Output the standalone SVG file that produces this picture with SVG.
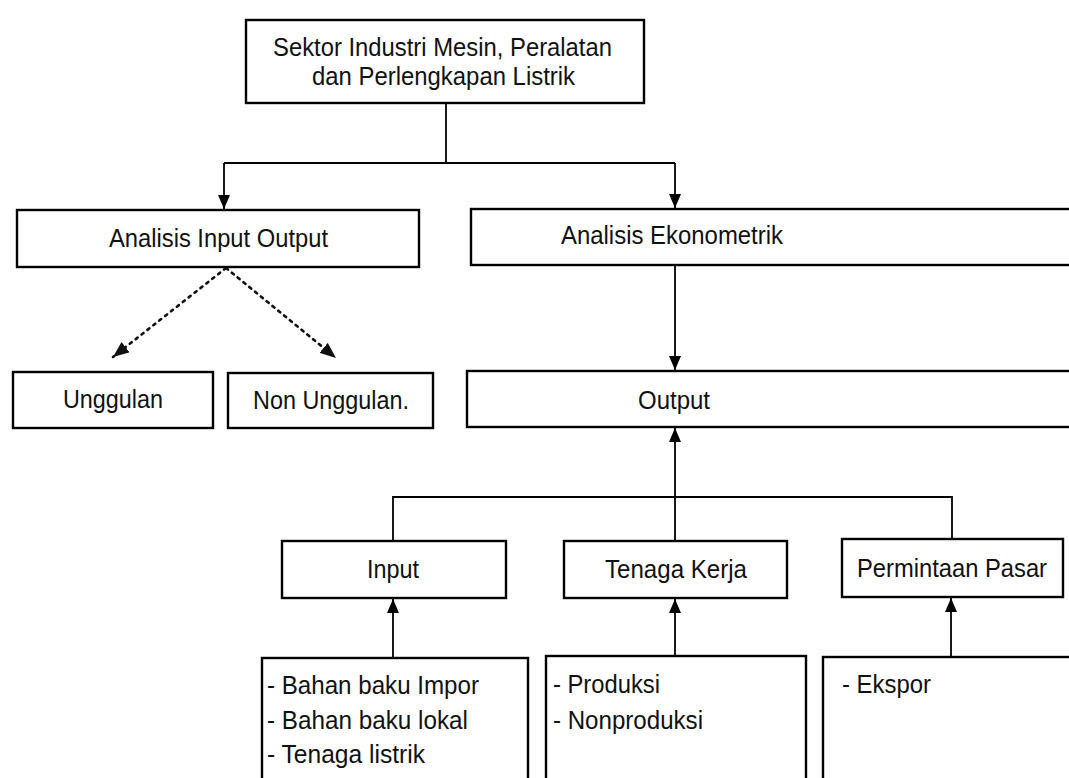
<svg xmlns="http://www.w3.org/2000/svg" width="1069" height="778" viewBox="0 0 1069 778">
  <style>
    .box { fill: #ffffff; stroke: #000000; stroke-width: 2.4; }
    .lbl { font-family: "Liberation Sans", Arial, sans-serif; font-size: 25px; fill: #111111; }
    .big { font-size: 26px; }
    .conn { fill: none; stroke: #000000; stroke-width: 1.8; }
    .dot { fill: none; stroke: #111111; stroke-width: 2.6; stroke-dasharray: 2.5 5; stroke-linecap: round; }
  </style>
  <defs>
    <marker id="arr" viewBox="0 0 14 12" refX="14" refY="6" markerWidth="14" markerHeight="12" markerUnits="userSpaceOnUse" orient="auto">
      <path d="M0,0 L14,6 L0,12 Z" fill="#000000"/>
    </marker>
    <marker id="arrd" viewBox="0 0 16 13" refX="16" refY="6.5" markerWidth="16" markerHeight="13" markerUnits="userSpaceOnUse" orient="auto">
      <path d="M0,0 L16,6.5 L0,13 Z" fill="#111111"/>
    </marker>
  </defs>
  <rect x="0" y="0" width="1069" height="778" fill="#ffffff"/>

  <g id="connectors">
    <path class="conn" d="M446,103 V163"/>
    <path class="conn" d="M224,163 H675"/>
    <path class="conn" d="M224,163 V209" marker-end="url(#arr)"/>
    <path class="conn" d="M675,163 V208" marker-end="url(#arr)"/>
    <path class="dot" d="M226,268 L113,357" marker-end="url(#arrd)"/>
    <path class="dot" d="M226,268 L336,358" marker-end="url(#arrd)"/>
    <path class="conn" d="M675,266 V370" marker-end="url(#arr)"/>
    <path class="conn" d="M675,541 V428" marker-end="url(#arr)"/>
    <path class="conn" d="M393,541 V497 H952 V539"/>
    <path class="conn" d="M393,658 V599" marker-end="url(#arr)"/>
    <path class="conn" d="M675,656 V599" marker-end="url(#arr)"/>
    <path class="conn" d="M951,657 V598" marker-end="url(#arr)"/>
  </g>

  <g id="node-sektor">
    <rect class="box" x="246" y="20" width="398" height="83"/>
    <text class="lbl big" x="273" y="56" textLength="339" lengthAdjust="spacingAndGlyphs">Sektor Industri Mesin, Peralatan</text>
    <text class="lbl big" x="312" y="85" textLength="263" lengthAdjust="spacingAndGlyphs">dan Perlengkapan Listrik</text>
  </g>
  <g id="node-aio">
    <rect class="box" x="17" y="210" width="402" height="57"/>
    <text class="lbl" x="109" y="247" textLength="219" lengthAdjust="spacingAndGlyphs">Analisis Input Output</text>
  </g>
  <g id="node-ae">
    <rect class="box" x="471" y="209" width="610" height="56"/>
    <text class="lbl" x="561" y="244" textLength="222" lengthAdjust="spacingAndGlyphs">Analisis Ekonometrik</text>
  </g>
  <g id="node-unggulan">
    <rect class="box" x="13" y="372" width="200" height="56"/>
    <text class="lbl" x="63" y="408" textLength="100" lengthAdjust="spacingAndGlyphs">Unggulan</text>
  </g>
  <g id="node-nonunggulan">
    <rect class="box" x="228" y="373" width="205" height="55"/>
    <text class="lbl" x="253" y="409" textLength="156" lengthAdjust="spacingAndGlyphs">Non Unggulan.</text>
  </g>
  <g id="node-output">
    <rect class="box" x="467" y="371" width="614" height="56"/>
    <text class="lbl" x="638" y="409" textLength="72" lengthAdjust="spacingAndGlyphs">Output</text>
  </g>
  <g id="node-input">
    <rect class="box" x="282" y="541" width="224" height="57"/>
    <text class="lbl" x="367" y="578" textLength="52" lengthAdjust="spacingAndGlyphs">Input</text>
  </g>
  <g id="node-tenagakerja">
    <rect class="box" x="564" y="541" width="223" height="57"/>
    <text class="lbl" x="605" y="578" textLength="142" lengthAdjust="spacingAndGlyphs">Tenaga Kerja</text>
  </g>
  <g id="node-permintaan">
    <rect class="box" x="842" y="539" width="221" height="58"/>
    <text class="lbl" x="857" y="577" textLength="190" lengthAdjust="spacingAndGlyphs">Permintaan Pasar</text>
  </g>
  <g id="node-input-list">
    <rect class="box" x="262" y="658" width="266" height="140"/>
    <text class="lbl" x="267" y="694" textLength="212" lengthAdjust="spacingAndGlyphs">- Bahan baku Impor</text>
    <text class="lbl" x="267" y="729" textLength="201" lengthAdjust="spacingAndGlyphs">- Bahan baku lokal</text>
    <text class="lbl" x="267" y="763" textLength="158" lengthAdjust="spacingAndGlyphs">- Tenaga listrik</text>
  </g>
  <g id="node-tk-list">
    <rect class="box" x="546" y="656" width="260" height="140"/>
    <text class="lbl" x="553" y="693" textLength="107" lengthAdjust="spacingAndGlyphs">- Produksi</text>
    <text class="lbl" x="553" y="729" textLength="150" lengthAdjust="spacingAndGlyphs">- Nonproduksi</text>
  </g>
  <g id="node-pasar-list">
    <rect class="box" x="823" y="657" width="260" height="140"/>
    <text class="lbl" x="842" y="693" textLength="89" lengthAdjust="spacingAndGlyphs">- Ekspor</text>
  </g>
</svg>
